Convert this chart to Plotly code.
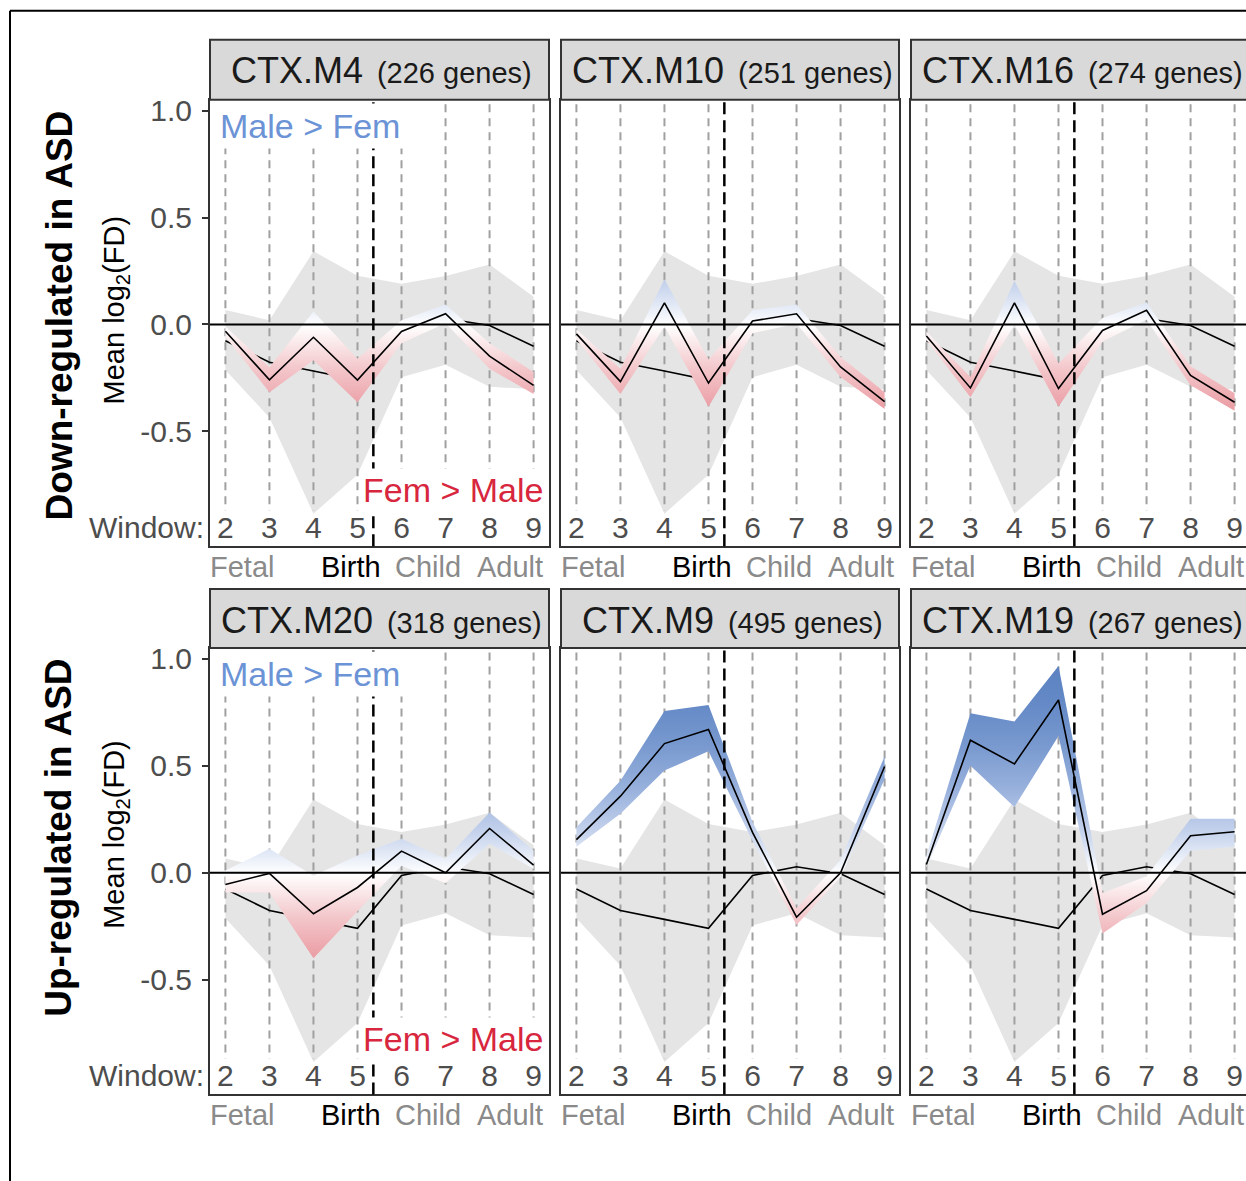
import plotly.graph_objects as go

W, H = 1246, 1181
FONT = "Liberation Sans, Arial, Helvetica, sans-serif"

# ---------------- data ----------------
windows = [2, 3, 4, 5, 6, 7, 8, 9]
birth_window = 5.36

# background (all modules) band and mean
bg_upper = [0.067, 0.02, 0.342, 0.228, 0.19, 0.226, 0.28, 0.129]
bg_lower = [-0.213, -0.435, -0.885, -0.703, -0.247, -0.189, -0.292, -0.303]
bg_mean = [-0.076, -0.177, -0.218, -0.26, -0.013, 0.028, -0.005, -0.102]

modules = ["CTX.M4", "CTX.M10", "CTX.M16", "CTX.M20", "CTX.M9", "CTX.M19"]
gene_counts = [226, 251, 274, 318, 495, 267]
row_titles = ["Down-regulated in ASD", "Up-regulated in ASD"]

m4_mean = [-0.032, -0.259, -0.06, -0.26, -0.033, 0.05, -0.148, -0.285]
m4_upper = [-0.01, -0.2, 0.06, -0.16, 0.02, 0.093, -0.088, -0.222]
m4_lower = [-0.057, -0.317, -0.167, -0.364, -0.088, 0.006, -0.207, -0.325]

m10_mean = [-0.044, -0.267, 0.101, -0.274, 0.016, 0.05, -0.199, -0.361]
m10_upper = [-0.022, -0.207, 0.211, -0.164, 0.066, 0.093, -0.151, -0.317]
m10_lower = [-0.069, -0.325, -0.01, -0.385, -0.041, 0.003, -0.246, -0.396]

m16_mean = [-0.054, -0.297, 0.101, -0.30, -0.028, 0.066, -0.238, -0.364]
m16_upper = [-0.033, -0.246, 0.203, -0.183, 0.03, 0.104, -0.196, -0.322]
m16_lower = [-0.073, -0.341, -0.002, -0.385, -0.08, 0.022, -0.285, -0.404]

m20_mean = [-0.055, -0.003, -0.192, -0.069, 0.101, 0.0, 0.207, 0.036]
m20_upper = [0.01, 0.112, -0.014, 0.08, 0.159, 0.065, 0.282, 0.104]
m20_lower = [-0.093, -0.093, -0.40, -0.18, 0.033, -0.049, 0.136, 0.017]

m9_mean = [0.155, 0.358, 0.604, 0.67, 0.189, -0.208, 0.0, 0.497]
m9_upper = [0.213, 0.43, 0.757, 0.785, 0.237, -0.166, 0.06, 0.544]
m9_lower = [0.121, 0.276, 0.478, 0.568, 0.15, -0.245, -0.02, 0.437]

m19_mean = [0.039, 0.62, 0.509, 0.808, -0.194, -0.084, 0.173, 0.192]
m19_upper = [0.079, 0.746, 0.707, 0.967, -0.095, -0.016, 0.252, 0.252]
m19_lower = [0.024, 0.5, 0.308, 0.639, -0.284, -0.142, 0.103, 0.121]

module_means = [m4_mean, m10_mean, m16_mean, m20_mean, m9_mean, m19_mean]
module_uppers = [m4_upper, m10_upper, m16_upper, m20_upper, m9_upper, m19_upper]
module_lowers = [m4_lower, m10_lower, m16_lower, m20_lower, m9_lower, m19_lower]

period_labels = ["Fetal", "Birth", "Child", "Adult"]
period_pos = [2.37, 4.85, 6.6, 8.46]
period_colors = ["#8a8a8a", "#000000", "#8a8a8a", "#8a8a8a"]

ytick_vals = [-0.5, 0.0, 0.5, 1.0]
ytick_text = ["-0.5", "0.0", "0.5", "1.0"]

# ---------------- layout geometry (pixels) ----------------
col_left = [210, 561, 911]
col_right = [549, 899, 1250]
plot_top = [99, 648]
plot_bot = [546, 1095]
strip_top = [39, 589]
XR = [1.65, 9.35]
YR = [-1.037, 1.051]

px_per_unit = (col_right[0] - col_left[0]) / (XR[1] - XR[0])


def px(x):
    return x / W


def py(y):
    # small empirical vertical correction of the rendered page
    y = (y - 5.15) / 0.9962
    return 1 - y / H


grad_scale = [
    [0.0, "#d9505e"], [0.1, "#e06c77"], [0.3, "#ea9aa1"], [0.4, "#f3c7cb"],
    [0.5, "#ffffff"], [0.6, "#c3d1ec"], [0.7, "#97b0dc"], [0.8, "#7899cf"],
    [0.9, "#6489c6"], [1.0, "#5a80c0"],
]

fig = go.Figure()
layout_axes = {}
shapes = []
annotations = []

for p, name in enumerate(modules):
    r, c = divmod(p, 3)
    xa = "x" if p == 0 else f"x{p + 1}"
    ya = "y" if p == 0 else f"y{p + 1}"
    xkey = "xaxis" if p == 0 else f"xaxis{p + 1}"
    ykey = "yaxis" if p == 0 else f"yaxis{p + 1}"
    right_px = min(col_right[c], W)
    xr_hi = XR[0] + (right_px - col_left[c]) / px_per_unit
    layout_axes[xkey] = dict(
        domain=[px(col_left[c]), px(right_px)], range=[XR[0], xr_hi], anchor=ya,
        showgrid=False, zeroline=False, showticklabels=False, ticks="",
        showline=True, mirror=True, linecolor="#333333", linewidth=2,
    )
    layout_axes[ykey] = dict(
        domain=[py(plot_bot[r]), py(plot_top[r])], range=YR, anchor=xa,
        showgrid=False, zeroline=False,
        showline=True, mirror=(c < 2), linecolor="#333333", linewidth=2,
        tickvals=ytick_vals, ticktext=ytick_text,
        showticklabels=(c == 0), ticks="outside" if c == 0 else "",
        ticklen=6, tickwidth=2, tickcolor="#333333", ticklabelstandoff=4,
        tickfont=dict(size=30, color="#4d4d4d", family=FONT),
    )
    common = dict(xaxis=xa, yaxis=ya, showlegend=False, hoverinfo="skip")
    # background band
    fig.add_trace(go.Scatter(x=windows, y=bg_lower, mode="lines",
                             line=dict(width=0, color="#e5e5e5"), **common))
    fig.add_trace(go.Scatter(x=windows, y=bg_upper, mode="lines", fill="tonexty",
                             fillcolor="#e5e5e5", line=dict(width=0, color="#e5e5e5"), **common))
    # vertical dashed window lines
    vx, vy = [], []
    for w in windows:
        vx += [w, w, None]
        vy += [1.03, -0.87, None]
    fig.add_trace(go.Scatter(x=vx, y=vy, mode="lines",
                             line=dict(color="#a0a0a0", width=2, dash="8px,6px"), **common))
    # background mean line
    fig.add_trace(go.Scatter(x=windows, y=bg_mean, mode="lines",
                             line=dict(color="black", width=1.6), **common))
    # module ribbon
    fig.add_trace(go.Scatter(x=windows, y=module_lowers[p], mode="lines",
                             line=dict(width=0, color="rgba(0,0,0,0)"), **common))
    fig.add_trace(go.Scatter(x=windows, y=module_uppers[p], mode="lines", fill="tonexty",
                             fillgradient=dict(type="vertical", colorscale=grad_scale,
                                               start=-1, stop=1),
                             line=dict(width=0, color="rgba(0,0,0,0)"), **common))
    # module mean line
    fig.add_trace(go.Scatter(x=windows, y=module_means[p], mode="lines",
                             line=dict(color="black", width=1.6), **common))
    # window digits
    fig.add_trace(go.Scatter(x=windows, y=[-0.963] * len(windows), mode="text",
                             text=[str(w) for w in windows],
                             textfont=dict(size=30, color="#4d4d4d", family=FONT), **common))

    # zero line and birth line
    shapes.append(dict(type="line", xref=f"{xa} domain", yref=ya, x0=0, x1=1, y0=0, y1=0,
                       line=dict(color="black", width=2), layer="above"))
    shapes.append(dict(type="line", xref=xa, yref=f"{ya} domain", x0=birth_window,
                       x1=birth_window, y0=0, y1=1,
                       line=dict(color="black", width=2.5, dash="12px,6px"), layer="above"))
    # strip
    shapes.append(dict(type="rect", xref="paper", yref="paper",
                       x0=px(col_left[c]), x1=px(col_right[c]),
                       y0=py(plot_top[r]), y1=py(strip_top[r]),
                       fillcolor="#d9d9d9", line=dict(color="#333333", width=2), layer="above"))
    annotations.append(dict(
        xref="paper", yref="paper", x=px((col_left[c] + col_right[c]) / 2 + 2),
        y=py(strip_top[r] + 31), xanchor="center", yanchor="middle", showarrow=False,
        text=(f"{name} <span style='font-size:14px'> </span>"
              f"<span style='font-size:29px'>({gene_counts[p]} genes)</span>"),
        font=dict(size=36, color="#1a1a1a", family=FONT)))
    # period labels
    for lab, pos, col in zip(period_labels, period_pos, period_colors):
        annotations.append(dict(
            xref=xa, yref="paper", x=pos, y=py(plot_bot[r] + 21), xanchor="center",
            yanchor="middle", showarrow=False, text=lab,
            font=dict(size=29, color=col, family=FONT)))
    if c == 0:
        annotations.append(dict(
            xref="paper", yref="paper", x=px(216), y=py(plot_top[r] + 26),
            xanchor="left", yanchor="middle", showarrow=False, text="Male > Fem",
            bgcolor="white", borderpad=3,
            font=dict(size=34, color="#6b93d6", family=FONT)))
        annotations.append(dict(
            xref="paper", yref="paper", x=px(546), y=py(plot_top[r] + 391),
            xanchor="right", yanchor="middle", showarrow=False, text="Fem > Male",
            bgcolor="white", borderpad=2,
            font=dict(size=34, color="#d7263d", family=FONT)))
        annotations.append(dict(
            xref="paper", yref="paper", x=px(206), y=py(plot_top[r] + 428),
            xanchor="right", yanchor="middle", showarrow=False, text="Window:",
            font=dict(size=30, color="#4d4d4d", family=FONT)))

# row titles and y titles
for r, (t, cy, my) in enumerate(zip(row_titles, [315, 838], [310, 835])):
    annotations.append(dict(
        xref="paper", yref="paper", x=px(59), y=py(cy), xanchor="center", yanchor="middle",
        showarrow=False, textangle=-90, text=f"<b>{t}</b>",
        font=dict(size=37, color="black", family=FONT)))
    annotations.append(dict(
        xref="paper", yref="paper", x=px(116), y=py(my), xanchor="center", yanchor="middle",
        showarrow=False, textangle=-90, text="Mean log<sub>2</sub>(FD)",
        font=dict(size=29, color="black", family=FONT)))

# outer frame
shapes.append(dict(type="line", xref="paper", yref="paper", x0=px(10), x1=px(10),
                   y0=py(10), y1=-0.02, line=dict(color="black", width=2)))
shapes.append(dict(type="line", xref="paper", yref="paper", x0=px(10), x1=1.02,
                   y0=py(10), y1=py(10), line=dict(color="black", width=2)))

fig.update_layout(
    width=W, height=H, margin=dict(l=0, r=0, t=0, b=0),
    paper_bgcolor="white", plot_bgcolor="white",
    font=dict(family=FONT), shapes=shapes, annotations=annotations,
    showlegend=False, **layout_axes,
)

fig.write_html("out.html")
